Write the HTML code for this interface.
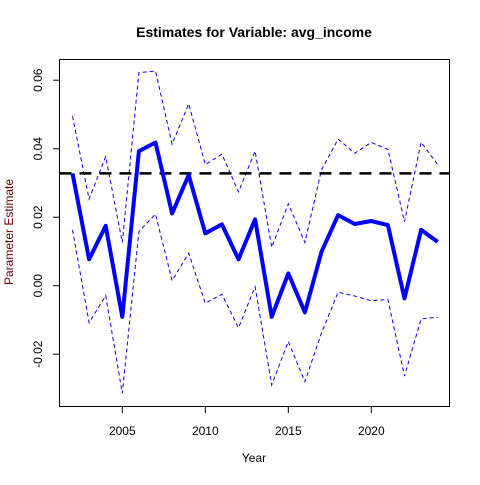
<!DOCTYPE html>
<html><head><meta charset="utf-8"><style>
body{margin:0;background:#fff}
svg text{font-family:"Liberation Sans",Arial,sans-serif}
</style></head><body>
<svg id="c" width="480" height="480" viewBox="0 0 480 480">
<rect width="480" height="480" fill="#fff"/>
<text x="254" y="37" text-anchor="middle" font-size="14" font-weight="bold">Estimates for Variable: avg_income</text>
<text x="254" y="462" text-anchor="middle" font-size="12">Year</text>
<text transform="translate(13,232) rotate(-90)" text-anchor="middle" font-size="12" fill="#6b0000">Parameter Estimate</text>
<rect x="59.5" y="59.5" width="390" height="347" fill="none" stroke="#000"/>
<g id="axes"></g><g id="marks"></g>
</svg>
<script>
const years=[2002,2003,2004,2005,2006,2007,2008,2009,2010,2011,2012,2013,2014,2015,2016,2017,2018,2019,2020,2021,2022,2023,2024];
const estimate=[0.0328,0.0077,0.0175,-0.0091,0.0393,0.0418,0.0211,0.0323,0.0153,0.0179,0.0077,0.0194,-0.0091,0.0036,-0.0078,0.0099,0.0206,0.0180,0.0189,0.0177,-0.0037,0.0163,0.0128];
const upper=[0.0495,0.0253,0.0377,0.0126,0.0622,0.0627,0.0413,0.0531,0.0354,0.0384,0.0274,0.0393,0.0112,0.0239,0.0126,0.0338,0.0428,0.0387,0.0418,0.0398,0.0187,0.0419,0.0354];
const lower=[0.0163,-0.0108,-0.0029,-0.0314,0.0158,0.0209,0.0015,0.0095,-0.0051,-0.0025,-0.0123,-0.0003,-0.0290,-0.0163,-0.0280,-0.0138,-0.0019,-0.0030,-0.0044,-0.0040,-0.0264,-0.0097,-0.0092];
const refValue=0.0328;
const xTicks=[2005,2010,2015,2020];
const yTicks=[-0.02,0.00,0.02,0.04,0.06];
const yTickLabels=["-0.02","0.00","0.02","0.04","0.06"];
const X=v=>122.3+(v-2005)*16.6;
const Y=v=>285.7-v*3425;
const NS="http://www.w3.org/2000/svg";
const ax=document.getElementById('axes'),mk=document.getElementById('marks');
function el(t,a,p){const e=document.createElementNS(NS,t);for(const k in a)e.setAttribute(k,a[k]);p.appendChild(e);return e;}
xTicks.forEach(t=>{
 const l=el('line',{x1:X(t),x2:X(t),y1:406.5,y2:413,stroke:'#000'},ax);
 
 
 const tx=el('text',{x:X(t),y:435,'text-anchor':'middle','font-size':12},ax);tx.textContent=t;
 
 
});
yTicks.forEach((t,i)=>{
 const l=el('line',{x1:53,x2:59.5,y1:Y(t),y2:Y(t),stroke:'#000'},ax);
 
 
 const tx=el('text',{transform:`translate(42,${Y(t)}) rotate(-90)`,'text-anchor':'middle','font-size':12},ax);tx.textContent=yTickLabels[i];
 
 
});
function pts(a){return a.map((v,i)=>X(years[i]).toFixed(1)+','+Y(v).toFixed(1)).join(' ');}
const u=el('polyline',{points:pts(upper),fill:'none',stroke:'#0000ff','stroke-width':1,'stroke-dasharray':'4,3'},mk);


const lo=el('polyline',{points:pts(lower),fill:'none',stroke:'#0000ff','stroke-width':1,'stroke-dasharray':'4,3'},mk);


const r=el('line',{x1:59.5,x2:449.5,y1:Y(refValue),y2:Y(refValue),stroke:'#000','stroke-width':2.5,'stroke-dasharray':'12,8'},mk);


const m=el('polyline',{points:pts(estimate),fill:'none',stroke:'#0000ff','stroke-width':4,'stroke-linejoin':'round'},mk);


</script>
</body></html>
